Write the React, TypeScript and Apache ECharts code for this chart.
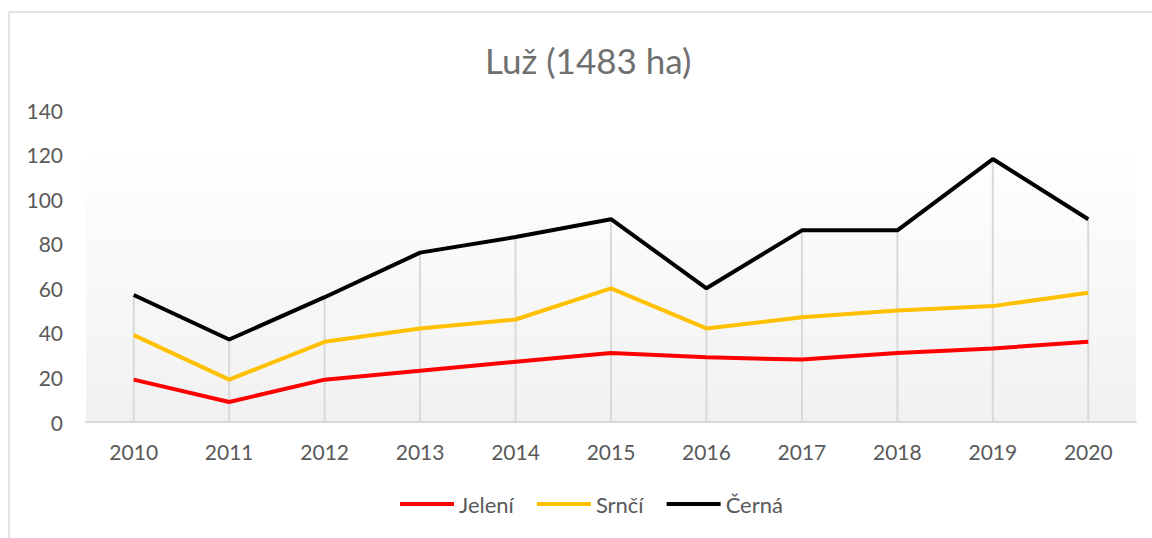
import React, { useEffect, useRef } from "react";
import * as echarts from "echarts";

const years = ["2010", "2011", "2012", "2013", "2014", "2015", "2016", "2017", "2018", "2019", "2020"];
const jeleni = [19, 9, 19, 23, 27, 31, 29, 28, 31, 33, 36];
const srnci = [39, 19, 36, 42, 46, 60, 42, 47, 50, 52, 58];
const cerna = [57, 37, 56, 76, 83, 91, 60, 86, 86, 118, 91];
const titleText = "Luž (1483 ha)";

const FONT = "Lato, 'Noto Sans', sans-serif";

export default function App() {
  const ref = useRef<HTMLDivElement>(null);
  useEffect(() => {
    if (!ref.current) return;
    const chart = echarts.init(ref.current, null, { renderer: "svg" });
    chart.setOption({
      animation: false,
      backgroundColor: "#ffffff",
      textStyle: { fontFamily: FONT },
      title: {
        text: titleText,
        left: 480,
        top: 37,
        textStyle: { fontFamily: FONT, fontSize: 35, fontWeight: "normal", color: "#707070" },
      },
      graphic: [
        { type: "line", shape: { x1: 9, y1: 12, x2: 1152, y2: 12 }, style: { stroke: "#d9d9d9", lineWidth: 1.5 }, silent: true },
        { type: "line", shape: { x1: 9, y1: 12, x2: 9, y2: 538 }, style: { stroke: "#d9d9d9", lineWidth: 1.5 }, silent: true },
        {
          type: "rect",
          z: -10,
          silent: true,
          shape: { x: 86, y: 145, width: 1050, height: 277 },
          style: {
            fill: new echarts.graphic.LinearGradient(0, 0, 0, 1, [
              { offset: 0, color: "#ffffff" },
              { offset: 1, color: "#f1f1f1" },
            ]),
          },
        },
      ],
      legend: {
        data: ["Jelení", "Srnčí", "Černá"],
        bottom: 18,
        left: 395,
        icon: "rect",
        itemWidth: 54,
        itemHeight: 4,
        itemGap: 23,
        textStyle: { fontFamily: FONT, fontSize: 22, color: "#595959" },
      },
      grid: { left: 86, right: 16, top: 110, bottom: 116, containLabel: false },
      xAxis: {
        type: "category",
        data: years,
        boundaryGap: true,
        axisLine: { show: true, lineStyle: { color: "#d9d9d9", width: 2 } },
        axisTick: { show: false },
        splitLine: { show: false },
        axisLabel: { fontFamily: FONT, fontSize: 21, color: "#595959", margin: 19 },
      },
      yAxis: {
        type: "value",
        min: 0,
        max: 140,
        interval: 20,
        axisLine: { show: false },
        axisTick: { show: false },
        splitLine: { show: false },
        axisLabel: { fontFamily: FONT, fontSize: 21, color: "#595959", margin: 23 },
      },
      series: [
        {
          name: "drop",
          type: "bar",
          data: cerna,
          barWidth: 2,
          itemStyle: { color: "#d9d9d9" },
          z: 1,
          silent: true,
        },
        {
          name: "Jelení",
          type: "line",
          data: jeleni,
          showSymbol: false,
          symbol: "none",
          lineStyle: { color: "#ff0000", width: 4 },
          itemStyle: { color: "#ff0000" },
          z: 3,
        },
        {
          name: "Srnčí",
          type: "line",
          data: srnci,
          showSymbol: false,
          symbol: "none",
          lineStyle: { color: "#ffc000", width: 4 },
          itemStyle: { color: "#ffc000" },
          z: 3,
        },
        {
          name: "Černá",
          type: "line",
          data: cerna,
          showSymbol: false,
          symbol: "none",
          lineStyle: { color: "#000000", width: 4 },
          itemStyle: { color: "#000000" },
          z: 3,
        },
      ],
    });
    return () => chart.dispose();
  }, []);
  return (
    <div
      ref={ref}
      style={{ position: "fixed", left: 0, top: 0, width: 1152, height: 538 }}
    />
  );
}
